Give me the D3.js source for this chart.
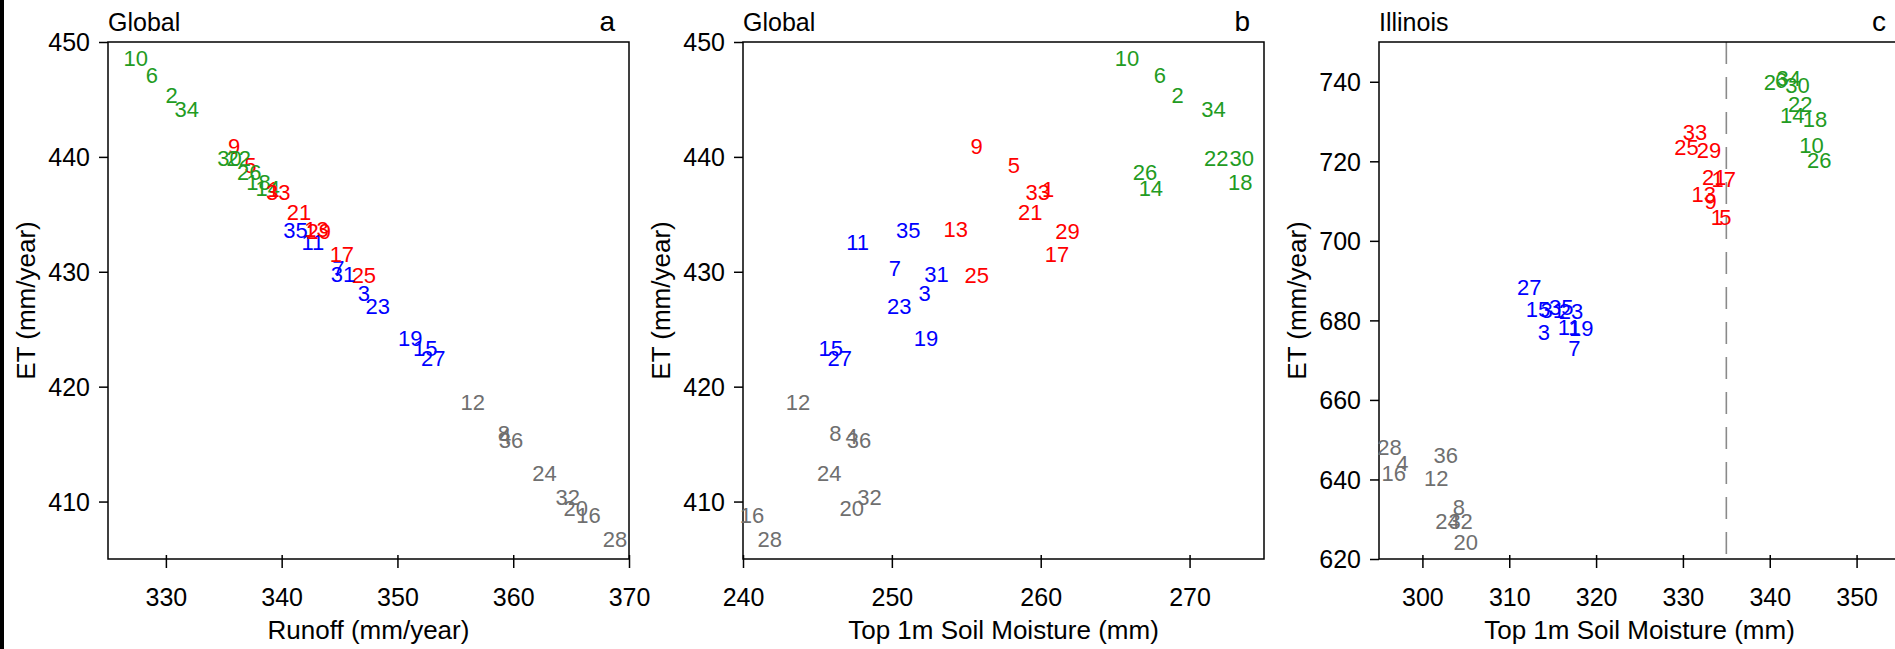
<!DOCTYPE html>
<html>
<head>
<meta charset="utf-8">
<script src="https://cdn.jsdelivr.net/npm/d3@7"></script>
<style>
  body { margin: 0; background: #fff; }
  svg { display: block; font-family: "Liberation Sans", Arial, Helvetica, sans-serif; }
</style>
</head>
<body>
<svg id="chart" width="1895" height="649"></svg>
<script>
// run numbers and their colour groups
const runIds = [1,2,3,4,5,6,7,8,9,10,11,12,13,14,15,16,17,18,19,20,21,22,23,24,25,26,27,28,29,30,31,32,33,34,35,36];
const redRuns   = [1,5,9,13,17,21,25,29,33];
const greenRuns = [2,6,10,14,18,22,26,30,34];
const blueRuns  = [3,7,11,15,19,23,27,31,35];
const grayRuns  = [4,8,12,16,20,24,28,32,36];

// global values, one per run (in runIds order)
const globalRunoff = [339.3,330.5,347.1,359.3,337.3,328.8,344.9,359.2,335.9,327.4,342.7,356.5,
                      343.0,338.8,352.4,366.5,345.2,338.0,351.1,365.4,341.5,336.3,348.3,362.7,
                      347.1,337.2,353.1,368.8,343.2,335.5,345.3,364.7,339.7,331.8,341.2,359.8];
const globalET     = [437.2,445.4,428.1,415.7,439.3,447.1,430.3,415.9,440.9,448.6,432.6,418.6,
                      433.7,437.3,423.3,408.8,431.5,437.8,424.2,409.4,435.2,439.9,427.0,412.5,
                      429.7,438.7,422.5,406.7,433.5,439.9,429.8,410.4,436.9,444.1,433.6,415.3];
const globalSoil   = [260.5,269.2,252.2,247.3,258.2,268.0,250.2,246.2,255.7,265.8,247.7,243.7,
                      254.3,267.4,245.9,240.6,261.1,273.4,252.3,247.3,259.3,271.8,250.5,245.8,
                      255.7,267.0,246.5,241.8,261.8,273.5,253.0,248.5,259.8,271.6,251.1,247.8];

// Illinois values
const illinoisSoil = [333.9,340.0,314.0,297.7,334.9,341.3,317.5,304.2,333.2,344.8,316.9,301.6,
                      332.4,342.6,313.3,296.7,334.7,345.2,318.3,305.0,333.6,343.5,317.1,302.9,
                      330.4,345.7,312.3,296.2,333.0,343.2,315.0,304.4,331.4,342.2,316.0,302.7];
const illinoisET   = [705.9,739.8,677.1,644.0,705.9,740.4,673.1,633.1,710.0,723.9,678.3,640.3,
                      711.6,731.5,682.7,641.5,715.6,730.6,677.9,624.3,716.1,734.4,682.4,629.6,
                      723.5,720.2,688.4,648.0,722.7,739.2,682.5,629.6,727.3,740.9,683.4,646.1];
const illinoisThreshold = 335;

// axis ticks
const runoffTicks = [330,340,350,360,370];
const globalSoilTicks = [240,250,260,270];
const globalETTicks = [410,420,430,440,450];
const illinoisSoilTicks = [300,310,320,330,340,350];
const illinoisETTicks = [620,640,660,680,700,720,740];

const groupColor = function (id) {
    if (redRuns.includes(id)) return "#ff0000";
    if (greenRuns.includes(id)) return "#229b22";
    if (blueRuns.includes(id)) return "#0000ff";
    return "#6f6f6f";
};

let svg = d3.select("#chart");
svg.append("rect").attr("width", 1895).attr("height", 649).attr("fill", "#fff");
svg.append("rect").attr("x", 0).attr("y", 0).attr("width", 4).attr("height", 649).attr("fill", "#000");

let plotTop = 42,
    plotBottom = 559,
    plotW = 521;

function drawPanel(p) {
    let g = svg.append("g");
    let x = d3.scaleLinear().domain(p.xDomain).range([p.left, p.left + plotW]);
    let y = d3.scaleLinear().domain(p.yDomain).range([plotBottom, plotTop]);

    // dashed threshold (panel c only)
    if (p.vline !== undefined) {
        g.append("line")
            .attr("x1", x(p.vline)).attr("x2", x(p.vline))
            .attr("y1", plotTop).attr("y2", plotBottom)
            .attr("stroke", "#8a8a8a").attr("stroke-width", 1.6)
            .attr("stroke-dasharray", "22,13");
    }

    // x axis
    let xa = g.append("g")
        .attr("transform", "translate(0," + plotBottom + ")")
        .call(d3.axisBottom(x).tickValues(p.xTicks).tickSize(9).tickFormat(d3.format("d")));
    xa.attr("font-size", null).attr("font-family", null);
    xa.select(".domain").remove();
    xa.selectAll(".tick line").attr("y1", -4).attr("y2", 9).attr("stroke", "#000").attr("stroke-width", 1.5);
    xa.selectAll(".tick text").attr("y", 47).attr("dy", null)
        .attr("font-size", 25).attr("fill", "#000");

    // y axis
    let ya = g.append("g")
        .attr("transform", "translate(" + p.left + ",0)")
        .call(d3.axisLeft(y).tickValues(p.yTicks).tickSize(9).tickFormat(d3.format("d")));
    ya.attr("font-size", null).attr("font-family", null);
    ya.select(".domain").remove();
    ya.selectAll(".tick line").attr("stroke", "#000").attr("stroke-width", 1.5);
    ya.selectAll(".tick text").attr("x", -18).attr("dy", "0.35em")
        .attr("font-size", 25).attr("fill", "#000");

    // frame
    g.append("rect")
        .attr("x", p.left).attr("y", plotTop)
        .attr("width", plotW).attr("height", plotBottom - plotTop)
        .attr("fill", "none").attr("stroke", "#000").attr("stroke-width", 1.5);

    // run numbers as markers
    g.selectAll("text.run")
        .data(runIds)
        .enter().append("text")
        .attr("class", "run")
        .attr("x", function (d, i) { return x(p.xs[i]); })
        .attr("y", function (d, i) { return y(p.ys[i]); })
        .attr("dy", "0.35em")
        .attr("text-anchor", "middle")
        .attr("font-size", 22)
        .attr("fill", function (d) { return groupColor(d); })
        .text(function (d) { return d; });

    // titles
    g.append("text").attr("x", p.left).attr("y", 30.5)
        .attr("font-size", 25).text(p.title);
    g.append("text").attr("x", p.left + plotW - 14).attr("y", 30.5)
        .attr("text-anchor", "end").attr("font-size", 28).text(p.letter);
    g.append("text").attr("x", p.left + plotW / 2).attr("y", 639)
        .attr("text-anchor", "middle").attr("font-size", 26).text(p.xLabel);
    g.append("text")
        .attr("transform", "translate(" + (p.left - 73) + "," + ((plotTop + plotBottom) / 2) + ") rotate(-90)")
        .attr("text-anchor", "middle").attr("font-size", 26).text("ET (mm/year)");
}

drawPanel({
    left: 108, xDomain: [325, 370], yDomain: [405, 450],
    xTicks: runoffTicks, yTicks: globalETTicks,
    xs: globalRunoff, ys: globalET,
    title: "Global", letter: "a", xLabel: "Runoff (mm/year)"
});
drawPanel({
    left: 743, xDomain: [240, 275], yDomain: [405, 450],
    xTicks: globalSoilTicks, yTicks: globalETTicks,
    xs: globalSoil, ys: globalET,
    title: "Global", letter: "b", xLabel: "Top 1m Soil Moisture (mm)"
});
drawPanel({
    left: 1379, xDomain: [295, 355], yDomain: [620, 750],
    xTicks: illinoisSoilTicks, yTicks: illinoisETTicks,
    xs: illinoisSoil, ys: illinoisET, vline: illinoisThreshold,
    title: "Illinois", letter: "c", xLabel: "Top 1m Soil Moisture (mm)"
});
</script>
</body>
</html>
